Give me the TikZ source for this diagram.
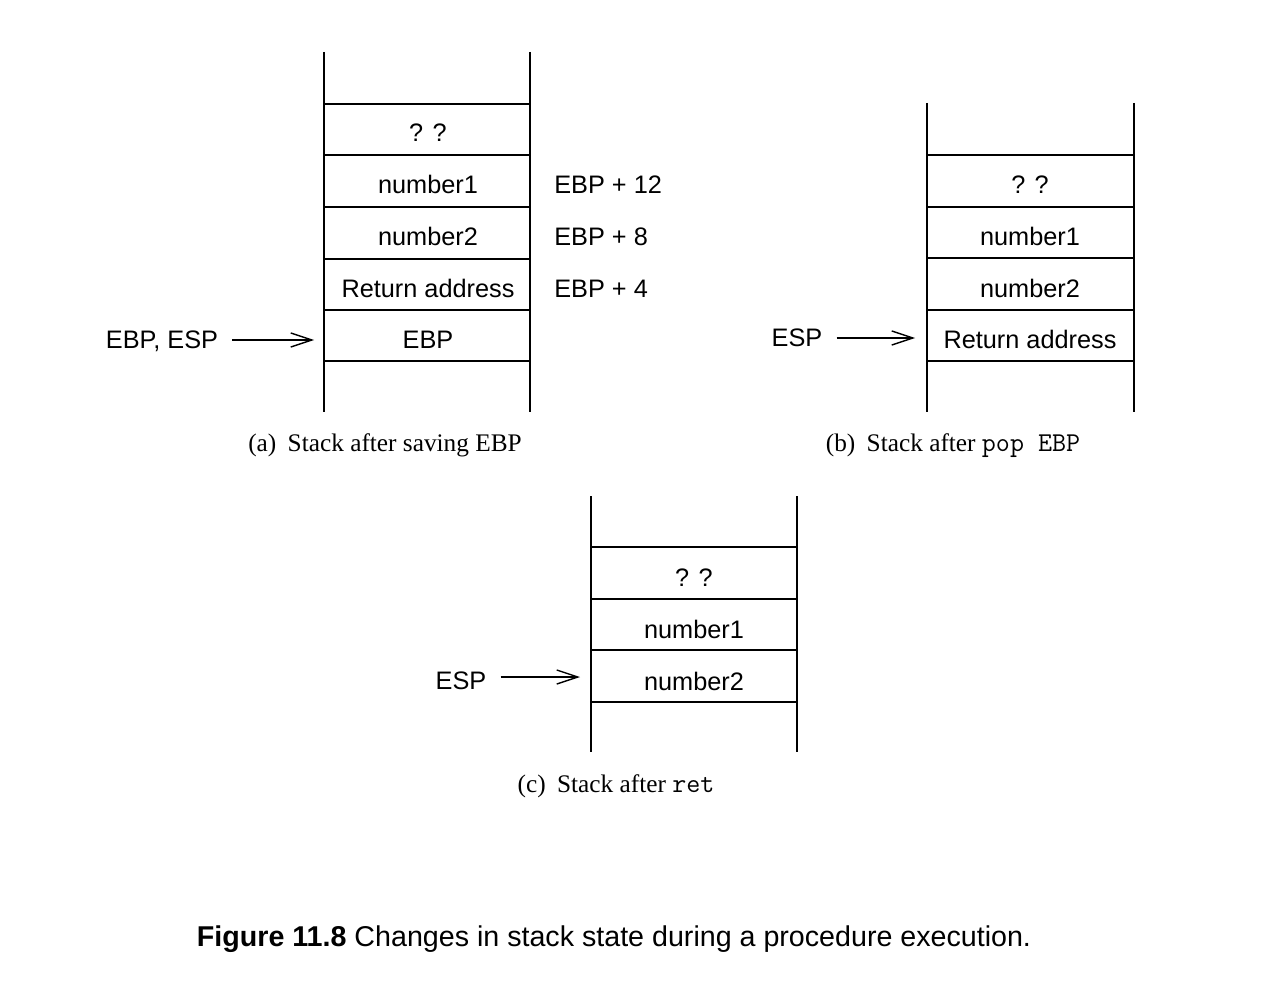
\documentclass[tikz,border=0pt]{standalone}
\usepackage{fontspec}
\setmainfont{Liberation Serif}
\setsansfont{Liberation Sans}
\usetikzlibrary{arrows.meta}
\begin{document}
\begin{tikzpicture}[x=0.02cm,y=-0.02cm,
  wall/.style={line width=1.2pt},
  shelf/.style={line width=0.85pt},
  cell/.style={font=\sffamily\fontsize{14.4}{16}\selectfont, inner sep=0pt, anchor=base},
  lbl/.style={font=\sffamily\fontsize{14.4}{16}\selectfont, inner ysep=4pt, inner xsep=8pt, anchor=base},
  off/.style={font=\sffamily\fontsize{14.4}{16}\selectfont, inner sep=0pt, anchor=base west},
  capt/.style={font=\rmfamily\fontsize{14.4}{16}\selectfont, inner sep=0pt, anchor=base},
  code/.style={font=\ttfamily\fontsize{15.5}{16}\selectfont},
  ptr/.style={line width=0.8pt, -{Straight Barb[length=12pt,width=8pt,line width=0.8pt]}}]
\useasboundingbox (0,0) rectangle (1282,1000);
% ---- stack (a)
\draw[wall] (324,52) -- (324,412);
\draw[wall] (530,52) -- (530,412);
\foreach \y in {104,155,207,259,310,361} \draw[shelf] (324,\y) -- (530,\y);
\node[cell] (a1) at (428,142) {? ?};
\node[cell] (a2) at (428,194) {number1};
\node[cell] (a3) at (428,246) {number2};
\node[cell] (a4) at (428,297) {Return address};
\node[cell] (a5) at (428,349) {EBP};
\node[off] (o1) at (554,194) {EBP + 12};
\node[off] (o2) at (554,246) {EBP + 8};
\node[off] (o3) at (554,297) {EBP + 4};
\node[lbl] (la) at (162,349) {EBP, ESP};
\coordinate (ta) at (314,340);
\draw[ptr] (la.east |- ta) -- (ta);
\node[capt] (ca) at (385,451) {(a)\hspace{0.45em}Stack after saving EBP};
% ---- stack (b)
\draw[wall] (927,103) -- (927,412);
\draw[wall] (1134,103) -- (1134,412);
\foreach \y in {155,207,258,310,361} \draw[shelf] (927,\y) -- (1134,\y);
\node[cell] (b1) at (1030,194) {? ?};
\node[cell] (b2) at (1030,246) {number1};
\node[cell] (b3) at (1030,297) {number2};
\node[cell] (b4) at (1030,349) {Return address};
\node[lbl] (lb) at (797,347) {ESP};
\coordinate (tb) at (915,338);
\draw[ptr] (lb.east |- tb) -- (tb);
\node[capt] (cb) at (953,451) {(b)\hspace{0.45em}Stack after {\ttfamily\fontsize{15.5}{16}\selectfont pop EBP}};
% ---- stack (c)
\draw[wall] (591,496) -- (591,752);
\draw[wall] (797,496) -- (797,752);
\foreach \y in {547,599,650,702} \draw[shelf] (591,\y) -- (797,\y);
\node[cell] (c1) at (694,586) {? ?};
\node[cell] (c2) at (694,638) {number1};
\node[cell] (c3) at (694,690) {number2};
\node[lbl] (lc) at (461,689) {ESP};
\coordinate (tc) at (580,677);
\draw[ptr] (lc.east |- tc) -- (tc);
\node[capt] (cc) at (616,792) {(c)\hspace{0.45em}Stack after {\ttfamily\fontsize{15.5}{16}\selectfont ret}};
% ---- figure caption
\node[capt, font=\sffamily\fontsize{16.3}{18}\selectfont] (fig) at (614,946)
  {\textbf{Figure 11.8} Changes in stack state during a procedure execution.};
\end{tikzpicture}
\end{document}
